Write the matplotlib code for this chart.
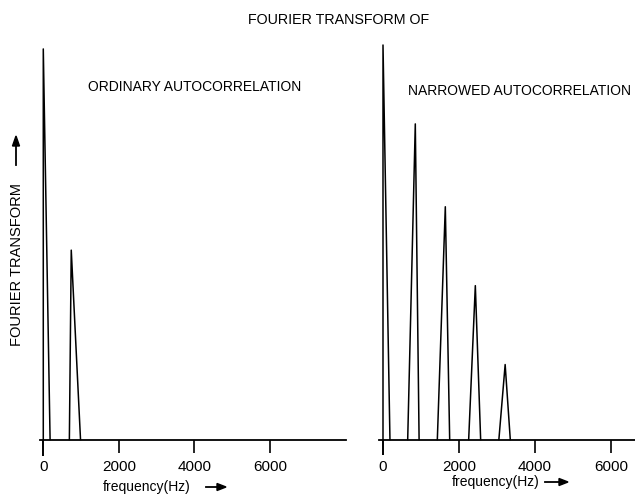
import matplotlib.pyplot as plt

plt.rcParams['font.family'] = ['Liberation Sans', 'DejaVu Sans']

# peaks: apex frequency, left/right base frequency, relative height
ord_apex = [0, 740]
ord_left = [0, 690]
ord_right = [180, 985]
ord_height = [0.99, 0.48]

nar_apex = [0, 850, 1640, 2430, 3215]
nar_left = [0, 650, 1430, 2255, 3050]
nar_right = [183, 950, 1755, 2570, 3350]
nar_height = [1.0, 0.80, 0.59, 0.39, 0.19]

tick_vals = [2000, 4000, 6000]
tick_labels = ['2000', '4000', '6000']

W, H = 635, 497
fig = plt.figure(figsize=(W / 100, H / 100), dpi=100)

bottom = (H - 439.5) / H
height = 394.5 / H
ax1 = fig.add_axes([39.5 / W, bottom, 306.2 / W, height])
ax2 = fig.add_axes([379.2 / W, bottom, 255.7 / W, height])


def draw_panel(ax, apex, left, right, hts, xlim, zero_len):
    for a, l, r, h in zip(apex, left, right, hts):
        ax.plot([l, a, r], [0, h, 0], color='black', lw=1.1, clip_on=False)
    ax.set_xlim(*xlim)
    ax.set_ylim(0, 1.0)
    for s in ['top', 'right', 'left']:
        ax.spines[s].set_visible(False)
    ax.spines['bottom'].set_linewidth(1.3)
    ax.set_yticks([])
    ax.set_xticks(tick_vals, labels=tick_labels)
    # zero gets its own, slightly longer tick
    ax.set_xticks([0], labels=['0'], minor=True)
    ax.tick_params(axis='x', which='both', direction='out', labelsize=11)
    ax.tick_params(axis='x', which='major', length=9.4, width=1.2, pad=5.5)
    ax.tick_params(axis='x', which='minor', length=zero_len, width=1.4, color='black',
                   pad=5.5 + 9.4 - zero_len)


draw_panel(ax1, ord_apex, ord_left, ord_right, ord_height, (-100, 8000), 11.5)
draw_panel(ax2, nar_apex, nar_left, nar_right, nar_height, (-100, 6630), 10.5)

fig.text(339 / W, 1 - 20 / H, 'FOURIER TRANSFORM OF', ha='center', va='center', fontsize=10.3)
fig.text(88 / W, 1 - 87 / H, 'ORDINARY AUTOCORRELATION', ha='left', va='center', fontsize=10)
fig.text(408 / W, 1 - 91 / H, 'NARROWED AUTOCORRELATION', ha='left', va='center', fontsize=10)

# y label with upward arrow
fig.text(17 / W, 1 - 265 / H, 'FOURIER TRANSFORM', rotation=90, ha='center', va='center', fontsize=10.5)
fig.add_artist(plt.Line2D([16 / W, 16 / W], [1 - 165 / H, 1 - 145 / H], color='black', lw=1.3))
fig.add_artist(plt.Polygon([[12.5 / W, 1 - 146 / H], [19.5 / W, 1 - 146 / H], [16 / W, 1 - 136 / H]],
                           closed=True, color='black'))

# x labels with right arrows
for cx, y, ax0, ax1_ in [(147, 487, 206, 226), (496, 482, 545, 568)]:
    fig.text(cx / W, 1 - y / H, 'frequency(Hz)', ha='center', va='center', fontsize=10)
    fig.add_artist(plt.Line2D([ax0 / W, (ax1_ - 8) / W], [1 - y / H, 1 - y / H], color='black', lw=1.3))
    fig.add_artist(plt.Polygon([[(ax1_ - 9) / W, 1 - (y - 3.5) / H], [(ax1_ - 9) / W, 1 - (y + 3.5) / H],
                                [ax1_ / W, 1 - y / H]], closed=True, color='black'))

fig.savefig('out.png', dpi=100)
